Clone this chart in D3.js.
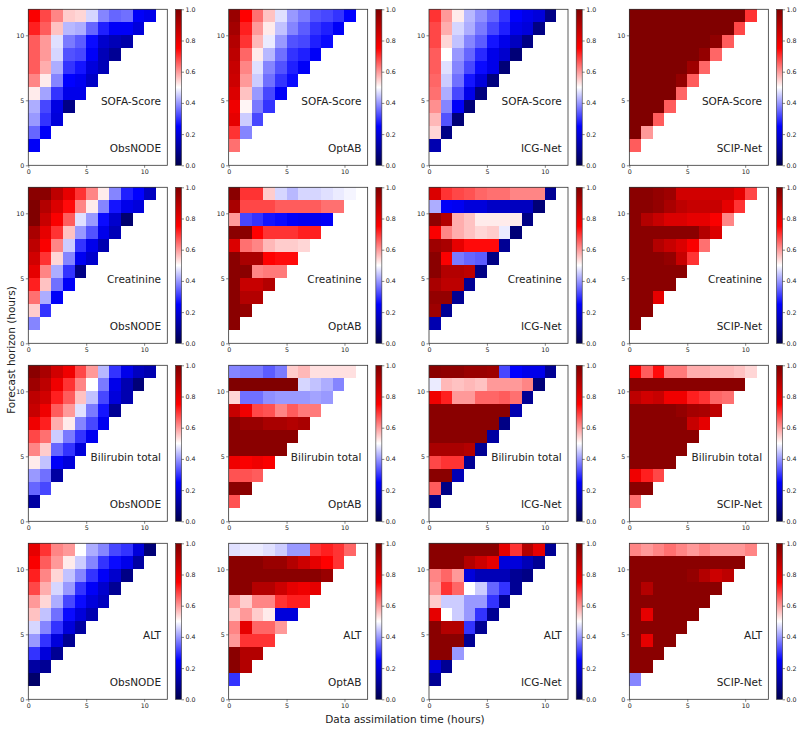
<!DOCTYPE html>
<html lang="en">
<head>
<meta charset="UTF-8">
<title>Heatmaps</title>
<script src="https://d3js.org/d3.v7.min.js"></script>
<style>
  body { margin: 0; background: #fff; }
  text { font-family: "DejaVu Sans", sans-serif; fill: #222; }
</style>
</head>
<body>
<div id="chart"></div>
<script>
// rows are listed from horizon 11 (top) down to horizon 1; row h has cells for time 0..h-1
const variables = ["SOFA-Score", "Creatinine", "Bilirubin total", "ALT"]
const methods = ["ObsNODE", "OptAB", "ICG-Net", "SCIP-Net"]
const axisTicks = [0, 5, 10]
const cbarTicks = [0, 0.2, 0.4, 0.6, 0.8, 1.0]

const sofaObsNODE = [
  [0.76, 0.68, 0.62, 0.55, 0.54, 0.46, 0.38, 0.35, 0.36, 0.24, 0.22],
  [0.72, 0.66, 0.56, 0.43, 0.42, 0.35, 0.28, 0.24, 0.24, 0.2],
  [0.66, 0.6, 0.47, 0.37, 0.34, 0.26, 0.18, 0.15, 0.13],
  [0.66, 0.6, 0.46, 0.33, 0.32, 0.24, 0.15, 0.1],
  [0.66, 0.58, 0.42, 0.3, 0.27, 0.2, 0.15],
  [0.62, 0.52, 0.38, 0.25, 0.23, 0.17],
  [0.52, 0.41, 0.3, 0.22, 0.22],
  [0.42, 0.32, 0.21, 0.08],
  [0.4, 0.3, 0.2],
  [0.35, 0.24],
  [0.24]
]
const sofaOptAB = [
  [0.95, 0.75, 0.64, 0.56, 0.47, 0.4, 0.37, 0.33, 0.32, 0.3, 0.25],
  [0.93, 0.72, 0.6, 0.52, 0.44, 0.38, 0.34, 0.3, 0.28, 0.24],
  [0.9, 0.7, 0.57, 0.48, 0.4, 0.33, 0.32, 0.28, 0.26],
  [0.88, 0.65, 0.52, 0.43, 0.36, 0.3, 0.28, 0.24],
  [0.86, 0.62, 0.47, 0.38, 0.33, 0.28, 0.24],
  [0.85, 0.6, 0.45, 0.36, 0.3, 0.26],
  [0.82, 0.56, 0.4, 0.32, 0.24],
  [0.78, 0.51, 0.37, 0.3],
  [0.8, 0.45, 0.32],
  [0.7, 0.38],
  [0.64]
]
const sofaICGNet = [
  [0.7, 0.6, 0.52, 0.43, 0.39, 0.35, 0.3, 0.25, 0.22, 0.2, 0.08],
  [0.68, 0.58, 0.46, 0.42, 0.37, 0.32, 0.28, 0.22, 0.2, 0.08],
  [0.68, 0.54, 0.44, 0.38, 0.34, 0.27, 0.22, 0.16, 0.08],
  [0.66, 0.5, 0.4, 0.35, 0.29, 0.22, 0.18, 0.06],
  [0.66, 0.47, 0.38, 0.32, 0.26, 0.22, 0.06],
  [0.65, 0.45, 0.36, 0.27, 0.2, 0.07],
  [0.64, 0.42, 0.32, 0.22, 0.07],
  [0.61, 0.38, 0.24, 0.06],
  [0.57, 0.33, 0.06],
  [0.54, 0.08],
  [0.14]
]
const sofaSCIPNet = [
  [1, 1, 1, 1, 1, 1, 1, 1, 1, 1, 0.7],
  [1, 1, 1, 1, 1, 1, 1, 1, 1, 0.68],
  [1, 1, 1, 1, 1, 1, 1, 0.97, 0.66],
  [1, 1, 1, 1, 1, 1, 0.96, 0.65],
  [1, 1, 1, 1, 1, 0.94, 0.65],
  [1, 1, 1, 1, 0.96, 0.66],
  [1, 1, 1, 1, 0.65],
  [1, 1, 1, 0.66],
  [1, 1, 0.66],
  [1, 0.6],
  [0.66]
]

const creaObsNODE = [
  [0.98, 0.98, 0.88, 0.8, 0.7, 0.62, 0.52, 0.38, 0.28, 0.25, 0.16],
  [1.0, 0.9, 0.82, 0.74, 0.62, 0.52, 0.38, 0.27, 0.22, 0.2],
  [1.0, 0.86, 0.76, 0.66, 0.47, 0.4, 0.26, 0.18, 0.05],
  [0.92, 0.8, 0.7, 0.56, 0.4, 0.33, 0.22, 0.15],
  [0.88, 0.76, 0.62, 0.45, 0.3, 0.22, 0.14],
  [0.84, 0.7, 0.54, 0.38, 0.23, 0.18],
  [0.8, 0.62, 0.42, 0.3, 0.08],
  [0.72, 0.56, 0.36, 0.24],
  [0.64, 0.42, 0.24],
  [0.55, 0.3],
  [0.38]
]
const creaOptAB = [
  [0.98, 0.7, 0.7, 0.55, 0.46, 0.43, 0.46, 0.46, 0.47, 0.48, 0.49],
  [0.92, 0.68, 0.68, 0.68, 0.66, 0.66, 0.66, 0.66, 0.64, 0.64],
  [0.6, 0.32, 0.3, 0.27, 0.26, 0.24, 0.23, 0.23, 0.24],
  [0.98, 0.98, 0.75, 0.7, 0.7, 0.7, 0.72, 0.72],
  [0.82, 0.64, 0.62, 0.57, 0.55, 0.55, 0.54],
  [0.98, 0.92, 0.92, 0.75, 0.74, 0.74],
  [0.98, 0.98, 0.62, 0.63, 0.63],
  [0.98, 0.86, 0.86, 0.9],
  [0.98, 0.9, 0.9],
  [0.98, 0.96],
  [0.98]
]
const creaICGNet = [
  [0.82, 0.7, 0.68, 0.67, 0.65, 0.64, 0.64, 0.62, 0.62, 0.62, 0.1],
  [0.42, 0.24, 0.23, 0.2, 0.2, 0.17, 0.17, 0.16, 0.16, 0.06],
  [0.97, 0.9, 0.58, 0.56, 0.52, 0.52, 0.52, 0.52, 0.08],
  [0.76, 0.62, 0.58, 0.56, 0.54, 0.55, 0.48, 0.06],
  [0.94, 0.92, 0.8, 0.74, 0.74, 0.74, 0.1],
  [0.98, 0.76, 0.37, 0.35, 0.34, 0.08],
  [0.98, 0.9, 0.9, 0.88, 0.08],
  [0.92, 0.88, 0.88, 0.1],
  [0.96, 0.96, 0.1],
  [0.94, 0.1],
  [0.14]
]
const creaSCIPNet = [
  [0.98, 0.98, 0.96, 0.94, 0.84, 0.84, 0.84, 0.84, 0.84, 0.8, 0.68],
  [0.98, 0.98, 0.96, 0.92, 0.88, 0.86, 0.86, 0.86, 0.8, 0.7],
  [0.98, 0.9, 0.86, 0.82, 0.82, 0.8, 0.8, 0.76, 0.62],
  [0.98, 0.98, 0.98, 0.98, 0.98, 0.98, 0.9, 0.82],
  [0.98, 0.98, 0.9, 0.86, 0.82, 0.76, 0.64],
  [0.98, 0.98, 0.98, 0.96, 0.86, 0.7],
  [0.98, 0.98, 0.98, 0.98, 0.98],
  [0.98, 0.98, 0.98, 0.98],
  [0.98, 0.98, 0.8],
  [0.98, 0.98],
  [0.98]
]

const biliObsNODE = [
  [0.98, 0.92, 0.84, 0.78, 0.68, 0.6, 0.43, 0.3, 0.22, 0.16, 0.14],
  [0.94, 0.88, 0.78, 0.7, 0.62, 0.5, 0.37, 0.22, 0.14, 0.06],
  [0.88, 0.84, 0.72, 0.66, 0.56, 0.44, 0.32, 0.2, 0.14],
  [0.86, 0.78, 0.66, 0.6, 0.47, 0.37, 0.27, 0.1],
  [0.78, 0.72, 0.58, 0.52, 0.38, 0.32, 0.23],
  [0.68, 0.64, 0.45, 0.37, 0.3, 0.23],
  [0.62, 0.55, 0.35, 0.3, 0.2],
  [0.52, 0.44, 0.24, 0.2],
  [0.4, 0.36, 0.12],
  [0.35, 0.32],
  [0.12]
]
const biliOptAB = [
  [0.38, 0.37, 0.37, 0.34, 0.37, 0.55, 0.57, 0.53, 0.53, 0.53, 0.53],
  [1.0, 1.0, 1.0, 1.0, 1.0, 1.0, 0.46, 0.44, 0.42, 0.38],
  [0.54, 0.36, 0.36, 0.39, 0.4, 0.4, 0.4, 0.41, 0.4],
  [0.86, 0.78, 0.68, 0.67, 0.62, 0.66, 0.63, 0.63],
  [0.98, 0.95, 0.95, 0.92, 0.92, 0.9, 0.92],
  [0.98, 0.98, 0.98, 0.98, 0.98, 0.98],
  [0.98, 0.98, 0.98, 0.98, 0.98],
  [0.78, 0.76, 0.78, 0.76],
  [0.67, 0.67, 0.66],
  [0.98, 0.98],
  [0.67]
]
const biliICGNet = [
  [0.98, 0.97, 0.97, 0.95, 0.95, 0.94, 0.32, 0.25, 0.22, 0.22, 0.1],
  [0.48, 0.57, 0.56, 0.57, 0.56, 0.6, 0.6, 0.6, 0.62, 0.06],
  [0.78, 0.72, 0.6, 0.6, 0.65, 0.65, 0.66, 0.64, 0.1],
  [0.98, 0.98, 0.98, 0.98, 0.98, 0.98, 0.98, 0.14],
  [0.98, 0.98, 0.98, 0.98, 0.98, 0.98, 0.08],
  [0.98, 0.98, 0.98, 0.98, 0.98, 0.12],
  [0.92, 0.92, 0.92, 0.9, 0.1],
  [0.68, 0.7, 0.7, 0.1],
  [0.98, 0.98, 0.15],
  [0.66, 0.08],
  [0.08]
]
const biliSCIPNet = [
  [0.76, 0.66, 0.74, 0.63, 0.63, 0.58, 0.58, 0.57, 0.57, 0.56, 0.54],
  [0.98, 0.98, 0.98, 0.98, 0.98, 0.98, 0.98, 0.98, 0.98, 0.98],
  [0.88, 0.84, 0.86, 0.78, 0.78, 0.72, 0.7, 0.65, 0.64],
  [0.98, 0.98, 0.98, 0.98, 0.96, 0.93, 0.92, 0.88],
  [0.98, 0.98, 0.98, 0.98, 0.98, 0.86, 0.8],
  [0.98, 0.98, 0.98, 0.98, 0.98, 0.98],
  [0.98, 0.98, 0.98, 0.98, 0.98],
  [0.98, 0.98, 0.98, 0.98],
  [0.78, 0.72, 0.68],
  [0.98, 0.98],
  [0.64]
]

const altObsNODE = [
  [0.8, 0.7, 0.62, 0.6, 0.5, 0.42, 0.38, 0.32, 0.3, 0.2, 0.06],
  [0.76, 0.66, 0.6, 0.52, 0.45, 0.38, 0.3, 0.26, 0.22, 0.12],
  [0.72, 0.62, 0.54, 0.44, 0.38, 0.3, 0.24, 0.18, 0.08],
  [0.68, 0.58, 0.46, 0.4, 0.3, 0.24, 0.18, 0.1],
  [0.6, 0.54, 0.42, 0.32, 0.26, 0.2, 0.16],
  [0.56, 0.44, 0.36, 0.26, 0.2, 0.14],
  [0.46, 0.38, 0.3, 0.2, 0.12],
  [0.4, 0.3, 0.2, 0.1],
  [0.3, 0.2, 0.1],
  [0.12, 0.1],
  [0.04]
]
const altOptAB = [
  [0.47, 0.48, 0.48, 0.47, 0.45, 0.4, 0.4, 0.7, 0.72, 0.7, 0.65],
  [0.98, 0.98, 0.98, 0.95, 0.95, 0.9, 0.85, 0.8, 0.75, 0.7],
  [0.98, 0.98, 0.98, 0.98, 0.98, 0.98, 0.98, 0.98, 0.95],
  [0.98, 0.98, 0.9, 0.9, 0.85, 0.8, 0.78, 0.8],
  [0.6, 0.55, 0.62, 0.62, 0.7, 0.72, 0.72],
  [0.55, 0.6, 0.55, 0.52, 0.2, 0.2],
  [0.62, 0.8, 0.65, 0.65, 0.6],
  [0.6, 0.7, 0.7, 0.7],
  [0.98, 0.9, 0.9],
  [0.98, 0.9],
  [0.3]
]
const altICGNet = [
  [0.98, 0.98, 0.98, 0.98, 0.98, 0.98, 0.8, 0.7, 0.9, 0.8, 0.1],
  [0.98, 0.98, 0.98, 0.9, 0.85, 0.8, 0.2, 0.2, 0.15, 0.1],
  [0.62, 0.65, 0.6, 0.2, 0.15, 0.15, 0.15, 0.1, 0.08],
  [0.6, 0.7, 0.65, 0.5, 0.45, 0.35, 0.3, 0.1],
  [0.55, 0.45, 0.45, 0.4, 0.4, 0.3, 0.1],
  [0.8, 0.5, 0.45, 0.4, 0.3, 0.1],
  [0.98, 0.9, 0.9, 0.3, 0.1],
  [0.98, 0.98, 0.98, 0.1],
  [0.98, 0.98, 0.4],
  [0.2, 0.1],
  [0.1]
]
const altSCIPNet = [
  [0.62, 0.6, 0.62, 0.64, 0.62, 0.6, 0.62, 0.6, 0.6, 0.6, 0.62],
  [0.98, 0.98, 0.98, 0.98, 0.98, 0.98, 0.98, 0.98, 0.98, 0.98],
  [0.98, 0.98, 0.98, 0.98, 0.98, 0.96, 0.9, 0.85, 0.88],
  [0.98, 0.9, 0.98, 0.98, 0.98, 0.98, 0.98, 0.98],
  [0.98, 0.98, 0.98, 0.98, 0.98, 0.98, 0.98],
  [0.98, 0.8, 0.98, 0.98, 0.98, 0.98],
  [0.98, 0.98, 0.98, 0.98, 0.98],
  [0.98, 0.8, 0.98, 0.98],
  [0.98, 0.98, 0.98],
  [0.98, 0.98],
  [0.38]
]

const grid = [
  [sofaObsNODE, sofaOptAB, sofaICGNet, sofaSCIPNet],
  [creaObsNODE, creaOptAB, creaICGNet, creaSCIPNet],
  [biliObsNODE, biliOptAB, biliICGNet, biliSCIPNet],
  [altObsNODE, altOptAB, altICGNet, altSCIPNet]
]

const W = 805, H = 733
const PW = 139, PH = 156
const LEFT0 = 28.3, COLSTEP = 200.35
const TOP0 = 9.3, ROWSTEP = 178

// matplotlib "seismic"
const seismic = d3.scaleLinear()
  .domain([0, 0.25, 0.5, 0.75, 1])
  .range(["#00004c", "#0000ff", "#ffffff", "#ff0000", "#800000"])
  .clamp(true)

const svg = d3.select("#chart").append("svg")
  .attr("width", W).attr("height", H)

const defs = svg.append("defs")
const grad = defs.append("linearGradient")
  .attr("id", "cbar").attr("x1", 0).attr("y1", 1).attr("x2", 0).attr("y2", 0)
d3.range(0, 1.0001, 0.05).forEach(t => {
  grad.append("stop").attr("offset", t).attr("stop-color", seismic(t))
})

const x = d3.scaleLinear().domain([0, 12]).range([0, PW])
const y = d3.scaleLinear().domain([0, 12]).range([PH, 0])
const cy = d3.scaleLinear().domain([0, 1]).range([PH, 0])

grid.forEach((rowPanels, r) => {
  rowPanels.forEach((data, c) => {
    const g = svg.append("g")
      .attr("transform", `translate(${LEFT0 + c * COLSTEP}, ${TOP0 + r * ROWSTEP})`)

    const cells = []
    data.forEach((vals, k) => {
      const h = 11 - k
      vals.forEach((v, t) => cells.push({ t, h, v }))
    })

    g.selectAll("rect.cell").data(cells).enter().append("rect")
      .attr("class", "cell")
      .attr("x", d => x(d.t))
      .attr("y", d => y(d.h + 1))
      .attr("width", d => x(d.t + 1) - x(d.t))
      .attr("height", d => y(d.h) - y(d.h + 1))
      .attr("fill", d => seismic(d.v))
      .attr("shape-rendering", "crispEdges")

    const xAxis = g.append("g")
      .attr("transform", `translate(0, ${PH})`)
      .call(d3.axisBottom(x).tickValues(axisTicks).tickSize(2.5).tickPadding(1.5))
    const yAxis = g.append("g")
      .call(d3.axisLeft(y).tickValues(axisTicks).tickSize(2.5).tickPadding(1.5))
    ;[xAxis, yAxis].forEach(a => {
      a.select(".domain").remove()
      a.selectAll("text").attr("font-size", "6.3px").attr("font-family", "DejaVu Sans").attr("fill", "#222")
      a.selectAll("line").attr("stroke", "#333").attr("stroke-width", 0.6)
    })

    g.append("rect")
      .attr("width", PW).attr("height", PH)
      .attr("fill", "none").attr("stroke", "#333").attr("stroke-width", 0.8)

    g.append("text")
      .attr("x", PW * 0.955).attr("y", PH * 0.59 + 4)
      .attr("text-anchor", "end").attr("font-size", "10.5px")
      .text(variables[r])
    g.append("text")
      .attr("x", PW * 0.955).attr("y", PH * 0.89 + 4)
      .attr("text-anchor", "end").attr("font-size", "10.5px")
      .text(methods[c])

    // colorbar
    const cb = g.append("g").attr("transform", `translate(${PW + 8.2}, 0)`)
    cb.append("rect").attr("width", 6).attr("height", PH).attr("fill", "url(#cbar)")
    cb.append("rect").attr("width", 6).attr("height", PH)
      .attr("fill", "none").attr("stroke", "#333").attr("stroke-width", 0.6)
    const cAxis = cb.append("g").attr("transform", "translate(6, 0)")
      .call(d3.axisRight(cy).tickValues(cbarTicks).tickFormat(d3.format(".1f")).tickSize(2.5).tickPadding(1.5))
    cAxis.select(".domain").remove()
    cAxis.selectAll("text").attr("font-size", "6.3px").attr("font-family", "DejaVu Sans").attr("fill", "#222")
    cAxis.selectAll("line").attr("stroke", "#333").attr("stroke-width", 0.6)
  })
})

svg.append("text")
  .attr("transform", `translate(14.5, 350) rotate(-90)`)
  .attr("text-anchor", "middle").attr("font-size", "10.5px")
  .text("Forecast horizon (hours)")

svg.append("text")
  .attr("x", 405).attr("y", 723)
  .attr("text-anchor", "middle").attr("font-size", "10.5px")
  .text("Data assimilation time (hours)")
</script>
</body>
</html>
